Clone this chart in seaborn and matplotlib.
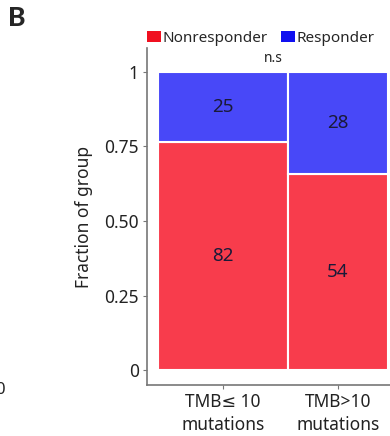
import numpy as np
import pandas as pd
import matplotlib.pyplot as plt
import seaborn as sns
from matplotlib.patches import Patch

groups = ['TMB≤ 10\nmutations', 'TMB>10\nmutations']
nonresp = [82, 54]
resp = [25, 28]
status = ['Nonresponder', 'Responder']
colors = ['#F83C4C', '#4848F8']

sns.set_style('white')
plt.rcParams['font.family'] = ['Noto Sans', 'DejaVu Sans']

# mosaic: bar width = share of patients, height = fraction within group
totals = np.array(nonresp) + np.array(resp)
widths = totals / totals.sum()
edges = np.concatenate([[0], np.cumsum(widths)])
mids = (edges[:-1] + edges[1:]) / 2

rows = []
for i in range(len(groups)):
    rows.append({'x': mids[i], 'status': status[0], 'frac': nonresp[i] / totals[i], 'n': nonresp[i]})
    rows.append({'x': mids[i], 'status': status[1], 'frac': resp[i] / totals[i], 'n': resp[i]})
df = pd.DataFrame(rows)

fig = plt.figure(figsize=(3.9, 4.36), dpi=100)
ax = fig.add_axes([147/390, 51/436, 243/390, 337/436])

sns.histplot(data=df, x='x', weights='frac', hue='status', hue_order=status[::-1],
             bins=[float(e) for e in edges], multiple='stack', palette=dict(zip(status, colors)),
             edgecolor='white', linewidth=1.5, alpha=1, legend=False, ax=ax)

# counts in the middle of each block
for i in range(len(groups)):
    f0 = nonresp[i] / totals[i]
    ax.text(mids[i], f0 / 2, str(nonresp[i]), ha='center', va='center', fontsize=13.5, color='#1a1a38')
    ax.text(mids[i], f0 + (1 - f0) / 2, str(resp[i]), ha='center', va='center', fontsize=13.5, color='#1a1a38')

ax.text(0.5, 1.045, 'n.s', ha='center', va='center', fontsize=10, color='#222222')

ax.set_xlim(-0.048, 1.009)
ax.set_ylim(-0.05, 1.08)
ax.set_xticks(mids)
ax.set_xticklabels(groups, fontsize=12.5, color='#222222', linespacing=1.3)
ax.set_yticks([0, 0.25, 0.5, 0.75, 1])
ax.set_yticklabels(['0', '0.25', '0.50', '0.75', '1'], fontsize=12.5, color='#222222')
ax.set_xlabel('')
ax.set_ylabel('Fraction of group', fontsize=12.5, color='#222222', labelpad=8)
ax.tick_params(axis='both', length=3, width=0.8, color='#777777', direction='out', pad=3)
ax.tick_params(axis='both', which='both', bottom=True, left=True)
sns.despine(ax=ax)
for s in ['left', 'bottom']:
    ax.spines[s].set_color('#777777')
    ax.spines[s].set_linewidth(1.2)

handles = [Patch(facecolor=c, edgecolor='none') for c in ['#F01020', '#1010F0']]
fig.legend(handles, status, loc='upper left', bbox_to_anchor=(147/390, 1 - 31/436),
           ncol=2, frameon=False, fontsize=11, handlelength=0.9, handleheight=0.7,
           handletextpad=0.1, columnspacing=0.9, borderaxespad=0, borderpad=0)

fig.text(8/390, 1 - 6/436, 'B', fontsize=19, fontweight=900, family=['Lato', 'DejaVu Sans'],
         ha='left', va='top')
fig.text(0.0, 1 - 390/436, '0', fontsize=12, ha='center', va='center', color='#222222')

fig.savefig('out.png', dpi=100)
